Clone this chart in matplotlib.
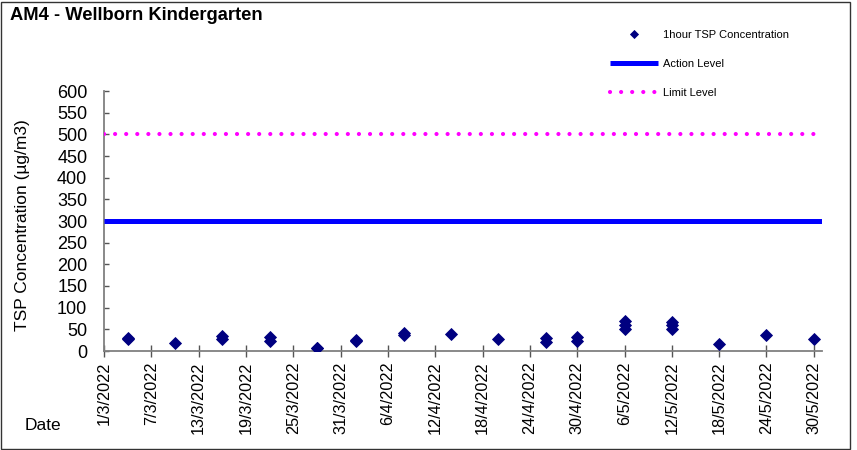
import matplotlib
matplotlib.use("Agg")
import matplotlib.pyplot as plt
import matplotlib.dates as mdates
from matplotlib.lines import Line2D
from matplotlib.patches import Rectangle
from datetime import datetime, timedelta

plt.rcParams['font.family'] = ['Liberation Sans', 'DejaVu Sans']

# ---- data ----
sample_dates = ["4/3/2022", "4/3/2022", "10/3/2022", "16/3/2022", "16/3/2022",
                "22/3/2022", "22/3/2022", "28/3/2022", "28/3/2022", "2/4/2022",
                "2/4/2022", "8/4/2022", "8/4/2022", "14/4/2022", "20/4/2022",
                "26/4/2022", "26/4/2022", "30/4/2022", "30/4/2022",
                "6/5/2022", "6/5/2022", "6/5/2022",
                "12/5/2022", "12/5/2022", "12/5/2022",
                "18/5/2022", "24/5/2022", "30/5/2022"]
tsp_values = [27, 30, 19, 27, 34,
              24, 33, 6, 8, 22,
              25, 37, 42, 39, 27,
              21, 29, 24, 33,
              50, 60, 69,
              51, 59, 67,
              17, 36, 27]
action_level = 300
limit_level = 500
title = "AM4 - Wellborn Kindergarten"
y_label = "TSP Concentration (µg/m3)"
x_label = "Date"
series_labels = ["1hour TSP Concentration", "Action Level", "Limit Level"]
x_start, x_end = "1/3/2022", "31/5/2022"
y_ticks = [0, 50, 100, 150, 200, 250, 300, 350, 400, 450, 500, 550, 600]

parse = lambda s: datetime.strptime(s, "%d/%m/%Y")
dates = [parse(s) for s in sample_dates]
d0, d1 = parse(x_start), parse(x_end)

fig = plt.figure(figsize=(8.57, 4.5), dpi=100)
ax = fig.add_axes([104/857, 1-351/450, (821.7-104)/857, (351-91)/450])

ax.plot(dates, tsp_values, linestyle='none', marker='D', ms=6,
        color='#000080', mec='#000080', mew=0.6, zorder=5, label=series_labels[0])
ax.plot([d0, d1], [action_level, action_level], color='#0000FF', lw=3.6,
        solid_capstyle='butt', label=series_labels[1], zorder=3)
ax.plot([d0, d1], [limit_level, limit_level], color='#FF00FF', lw=3.0,
        linestyle=(0, (0.01, 2.65)), dash_capstyle='round', label=series_labels[2], zorder=3)

ax.set_xlim(d0, d1)
ax.set_ylim(0, 600)
ax.set_yticks(y_ticks)
tick_dates = [d0 + timedelta(days=6*i) for i in range(16)]
ax.set_xticks(tick_dates)
ax.set_xticklabels([f"{d.day}/{d.month}/{d.year}" for d in tick_dates], rotation=90,
                   fontsize=11.7)
ax.tick_params(axis='x', direction='inout', length=8, width=1, color='#555555', pad=3.5)
ax.tick_params(axis='y', direction='in', length=3.5, width=1, color='#555555', pad=12,
               labelsize=13)
for s in ['top', 'right']:
    ax.spines[s].set_visible(False)
for s in ['left', 'bottom']:
    ax.spines[s].set_color('#808080')
    ax.spines[s].set_linewidth(1.3)

fig.text(23/857, 1-225/450, y_label, rotation=90, ha='center', va='center', fontsize=12.5)
fig.text(25/857, 1-425/450, x_label, ha='left', va='center', fontsize=12.5)
fig.text(10/857, 1-16/450, title, ha='left', va='center', fontsize=13.2, fontweight='bold')

leg = ax.legend(loc='upper left', bbox_to_anchor=(610/857, 1-30/450),
                bbox_transform=fig.transFigure, frameon=False, fontsize=8,
                handlelength=4.3, handletextpad=0.45, labelspacing=1.72,
                borderaxespad=0, borderpad=0, markerscale=0.65)

fig.patches.append(Rectangle((1/857, 1/450), 849/857, 447/450, transform=fig.transFigure,
                             fill=False, edgecolor='#333333', lw=1.0))

fig.savefig("out.png", dpi=100)
